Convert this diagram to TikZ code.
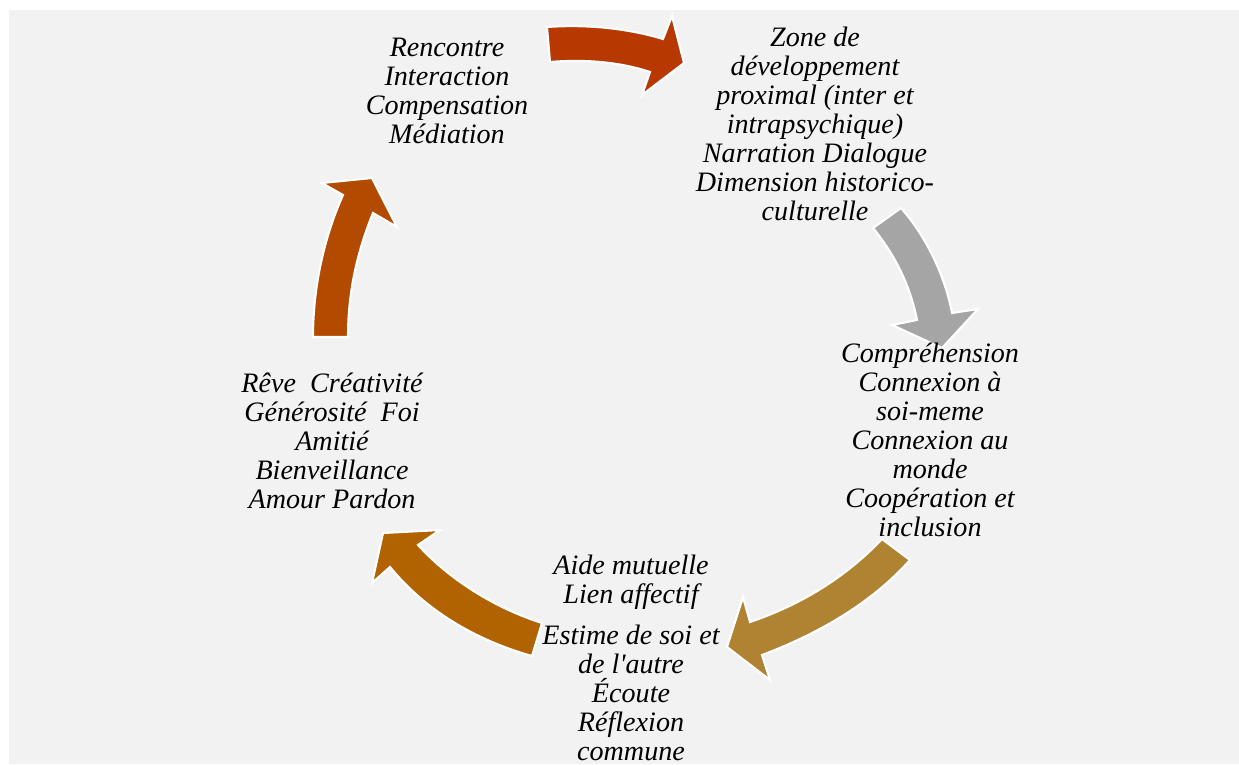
\documentclass[tikz,border=0pt]{standalone}
\usepackage{fontspec}
\setmainfont{Liberation Serif}
\newfontfamily\rawserif{Liberation Serif}
\definecolor{bg}{HTML}{F2F2F2}
\definecolor{cA}{HTML}{B73800}
\definecolor{cB}{HTML}{A5A5A5}
\definecolor{cC}{HTML}{AF8332}
\definecolor{cD}{HTML}{B06300}
\definecolor{cE}{HTML}{B24B00}
\begin{document}
\begin{tikzpicture}[x=0.02cm,y=-0.02cm,
  lbl/.style={font=\fontsize{16}{16.5}\selectfont\itshape, align=center, inner sep=0pt},
  arrowshape/.style={draw=white, line width=1.2pt, line join=miter}]
\useasboundingbox (0,0) rectangle (1239,764);
\fill[bg] (9,10) rectangle (1239,764);

% arrows
\path[arrowshape, fill=cA] (547,27) .. controls (590,24) and (630,29) .. (663,39)
  -- (672,16) -- (684,63) -- (642,95) -- (650,72)
  .. controls (620,62) and (585,59) .. (550,62) -- cycle;
\path[arrowshape, fill=cB] (901,208) .. controls (925,235) and (945,275) .. (952,313)
  -- (978,309) -- (942,348) -- (892,325) -- (917,320)
  .. controls (910,285) and (895,255) .. (873,228) -- cycle;
\path[arrowshape, fill=cC] (910,560) .. controls (870,605) and (815,635) .. (762,655)
  -- (770,680) -- (727,647) -- (743,597) -- (750,622)
  .. controls (800,605) and (845,578) .. (882,539) -- cycle;
\path[arrowshape, fill=cD] (532,656) .. controls (475,640) and (425,610) .. (390,567)
  -- (372,583) -- (383,533) -- (440,530) -- (418,545)
  .. controls (450,580) and (495,608) .. (542,623) -- cycle;
\path[arrowshape, fill=cE] (313,337) .. controls (313,285) and (325,235) .. (343,195)
  -- (322,183) -- (372,178) -- (397,227) -- (373,213)
  .. controls (358,250) and (348,290) .. (348,337) -- cycle;

% text
\node[lbl] (n1) at (447,91) {Rencontre\\Interaction\\Compensation\\Médiation};
\node[lbl] (n2) at (815,124) {Zone de\\développement\\proximal (inter et\\intrapsychique)\\Narration Dialogue\\Dimension historico-\\culturelle};
\node[lbl] (n3) at (930,440) {Compréhension\\Connexion à\\soi-meme\\Connexion au\\monde\\Coopération et\\inclusion};
\node[lbl] (n4) at (631,658) {Aide mutuelle\\Lien affectif\\[6.8pt]Estime de soi et\\de l{\rawserif\itshape '}autre\\Écoute\\Réflexion\\commune};
\node[lbl] (n5) at (332,441) {Rêve~~Créativité\\Générosité~~Foi\\Amitié\\Bienveillance\\Amour Pardon};
\end{tikzpicture}
\end{document}
